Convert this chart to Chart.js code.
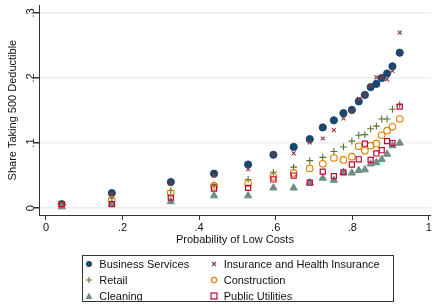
<!DOCTYPE html>
<html><head><meta charset="utf-8">
<script src="https://cdn.jsdelivr.net/npm/chart.js@4"></script>
<style>
html,body{margin:0;padding:0;background:#fff;}
#wrap{position:relative;width:436px;height:304px;overflow:hidden;}
#c{position:absolute;left:0;top:0;}
#legend{position:absolute;left:82px;top:255px;width:312px;height:47px;border:1px solid #333;box-sizing:border-box;font:11px "Liberation Sans",Arial,sans-serif;color:#111;}
.mk{position:absolute;width:10px;height:10px;}
.tx{position:absolute;line-height:14px;white-space:nowrap;}
</style>
</head><body>
<div id="wrap"><canvas id="c" width="436" height="304"></canvas><div id="legend"></div></div>
<script>
const xValues = [0.041, 0.172, 0.326, 0.439, 0.528, 0.594, 0.647, 0.689, 0.723, 0.752, 0.777, 0.799, 0.817, 0.833, 0.848, 0.863, 0.877, 0.891, 0.905, 0.924];
const businessServices = [0.006, 0.023, 0.040, 0.053, 0.067, 0.082, 0.094, 0.106, 0.124, 0.135, 0.146, 0.151, 0.164, 0.174, 0.186, 0.191, 0.200, 0.207, 0.218, 0.239];
const insurance = [0.006, 0.022, 0.038, 0.050, 0.060, 0.082, 0.084, 0.101, 0.107, 0.120, 0.138, 0.149, 0.168, 0.174, 0.188, 0.201, 0.201, 0.198, 0.211, 0.270];
const retail = [0.005, 0.015, 0.027, 0.036, 0.044, 0.055, 0.063, 0.073, 0.078, 0.087, 0.094, 0.103, 0.112, 0.113, 0.122, 0.126, 0.137, 0.137, 0.152, 0.159];
const construction = [0.005, 0.012, 0.023, 0.034, 0.038, 0.048, 0.054, 0.061, 0.068, 0.077, 0.074, 0.079, 0.095, 0.088, 0.096, 0.099, 0.112, 0.119, 0.125, 0.137];
const cleaning = [0.002, 0.007, 0.010, 0.019, 0.019, 0.031, 0.031, 0.039, 0.046, 0.043, 0.055, 0.054, 0.058, 0.059, 0.068, 0.070, 0.075, 0.083, 0.096, 0.100];
const publicUtilities = [0.006, 0.006, 0.016, 0.030, 0.031, 0.044, 0.050, 0.039, 0.056, 0.049, 0.055, 0.067, 0.075, 0.099, 0.074, 0.084, 0.089, 0.103, 0.100, 0.156];
const seriesNames = ["Business Services", "Insurance and Health Insurance", "Retail", "Construction", "Cleaning", "Public Utilities"];
const xTicks = [0, 0.2, 0.4, 0.6, 0.8, 1];
const xTickLabels = ["0", ".2", ".4", ".6", ".8", "1"];
const yTicks = [0, 0.1, 0.2, 0.3];
const yTickLabels = ["0", ".1", ".2", ".3"];
const xTitle = "Probability of Low Costs";
const yTitle = "Share Taking 500 Deductible";

const FONT = '"Liberation Sans", Arial, sans-serif';
const styles = [
  {color:'#1a476f', style:'circle', r:3.6, fill:true, bw:1},
  {color:'#90353b', style:'crossRot', r:2.8, fill:false, bw:1.1},
  {color:'#55752f', style:'cross', r:3.4, fill:false, bw:1.1},
  {color:'#e37e00', style:'circle', r:3.3, fill:false, bw:1.1},
  {color:'#6e8e84', style:'triangle', r:4.2, fill:true, bw:1},
  {color:'#c10534', style:'rect', r:3.6, fill:false, bw:1.2}
];
const allSeries = [businessServices, insurance, retail, construction, cleaning, publicUtilities];

const datasets = allSeries.map((vals, i) => ({
  label: seriesNames[i],
  data: vals.map((v, j) => ({x: xValues[j], y: v})),
  pointStyle: styles[i].style,
  pointRadius: styles[i].r,
  pointHoverRadius: styles[i].r,
  pointBorderWidth: styles[i].bw,
  borderColor: styles[i].color,
  backgroundColor: styles[i].fill ? styles[i].color : 'rgba(0,0,0,0)',
  showLine: false,
  order: 10 - i
}));

new Chart(document.getElementById('c'), {
  type: 'scatter',
  data: {datasets},
  options: {
    responsive: false,
    animation: false,
    layout: {padding: {top: 3, right: 5, bottom: 49, left: 0}},
    plugins: {legend: {display: false}, tooltip: {enabled: false}},
    scales: {
      x: {
        type: 'linear', min: -0.01828, max: 1.0052,
        afterBuildTicks: s => { s.ticks = xTicks.map(v => ({value: v})); },
        afterFit: s => { s.height = 40; },
        ticks: {callback: (v) => xTickLabels[xTicks.indexOf(v)] ?? '', font: {family: FONT, size: 11}, color: '#111', padding: 1, maxRotation: 0, autoSkip: false},
        grid: {drawOnChartArea: false, drawTicks: true, tickLength: 5, tickColor: '#333', lineWidth: 1},
        border: {display: true, color: '#333', width: 1},
        title: {display: true, text: xTitle, font: {family: FONT, size: 11}, color: '#111', padding: {top: 0, bottom: 8}}
      },
      y: {
        type: 'linear', min: -0.01065, max: 0.3120,
        afterBuildTicks: s => { s.ticks = yTicks.map(v => ({value: v})); },
        afterFit: s => { s.width = 39; },
        ticks: {callback: (v) => yTickLabels[yTicks.indexOf(v)] ?? '', font: {family: FONT, size: 11}, color: '#111', padding: -2, minRotation: 90, maxRotation: 90, crossAlign: 'center', autoSkip: false},
        grid: {drawOnChartArea: true, drawTicks: true, tickLength: 5, color: '#eeeeee', tickColor: '#333', lineWidth: 1.5},
        border: {display: true, color: '#333', width: 1},
        title: {display: true, text: yTitle, font: {family: FONT, size: 11}, color: '#111', padding: {top: 6, bottom: 0}}
      }
    }
  }
});

// HTML legend
const legend = document.getElementById('legend');
function markerSVG(st) {
  const c = st.color;
  let shape = '';
  if (st.style === 'circle' && st.fill) shape = `<circle cx="5" cy="5" r="3" fill="${c}"/>`;
  else if (st.style === 'circle') shape = `<circle cx="5" cy="5" r="2.6" fill="none" stroke="${c}" stroke-width="1.1"/>`;
  else if (st.style === 'crossRot') shape = `<path d="M3 3L7 7M7 3L3 7" stroke="${c}" stroke-width="1.1"/>`;
  else if (st.style === 'cross') shape = `<path d="M5 2V8M2 5H8" stroke="${c}" stroke-width="1.1"/>`;
  else if (st.style === 'triangle') shape = `<path d="M5 1.5L8.5 8H1.5Z" fill="${c}"/>`;
  else if (st.style === 'rect') shape = `<rect x="2" y="2" width="6" height="6" fill="none" stroke="${c}" stroke-width="1.2"/>`;
  return `<svg width="10" height="10" viewBox="0 0 10 10">${shape}</svg>`;
}
const rowC = [9.3, 25, 40.7];
const colM = [6.3, 130.7];
const colT = [16.3, 140.7];
seriesNames.forEach((name, i) => {
  const col = i % 2, row = Math.floor(i / 2);
  const m = document.createElement('div');
  m.className = 'mk';
  m.style.left = (colM[col] - 5) + 'px';
  m.style.top = (rowC[row] - 5 - 1) + 'px';
  m.innerHTML = markerSVG(styles[i]);
  legend.appendChild(m);
  const t = document.createElement('div');
  t.className = 'tx';
  t.style.left = colT[col] + 'px';
  t.style.top = (rowC[row] - 7 - 1) + 'px';
  t.textContent = name;
  legend.appendChild(t);
});
</script>
</body></html>
